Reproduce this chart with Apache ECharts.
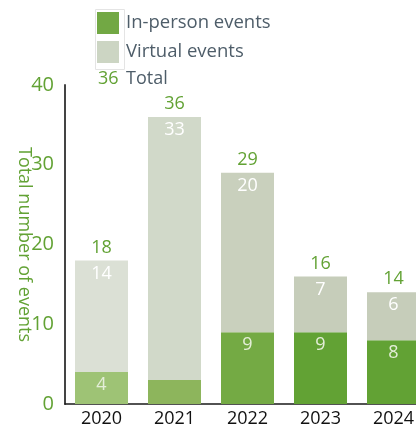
<!DOCTYPE html>
<html><head><meta charset="utf-8">
<script src="https://cdn.jsdelivr.net/npm/echarts@6/dist/echarts.min.js"></script>
<style>html,body{margin:0;padding:0;background:#fff}#c{width:416px;height:429px}</style>
</head><body><div id="c"></div>
<script>
var years = ['2020', '2021', '2022', '2023', '2024'];
var inPerson = [4, 3, 9, 9, 8];
var virtual = [14, 33, 20, 7, 6];
var totals = [18, 36, 29, 16, 14];
var inPersonColors = ['#9ec375', '#8db55c', '#74aa44', '#62a234', '#62a234'];
var virtualColors = ['#dbe0d5', '#d1d9c9', '#c9d0bd', '#c6cdba', '#c6cdba'];
var showInLabel = [true, false, true, true, true];
var yTicks = { min: 0, max: 40, interval: 10 };

var FONT = 'Open Sans';
var green = '#62a234';
var chart = echarts.init(document.getElementById('c'), null, { renderer: 'canvas' });
chart.setOption({
  animation: false,
  textStyle: { fontFamily: FONT },
  grid: { left: 65, top: 85, width: 365, bottom: 25, containLabel: false, outerBoundsMode: 'none' },
  legend: {
    data: ['In-person events', 'Virtual events'],
    orient: 'vertical', left: 97, top: 12,
    itemWidth: 22, itemHeight: 22, itemGap: 7, padding: 0,
    icon: 'rect', selectedMode: false,
    textStyle: { fontFamily: FONT, fontSize: 18.5, color: '#4e5d69', padding: [0, 0, 0, 2] }
  },
  graphic: [
    { type: 'rect', left: 93, top: 7, shape: { width: 29, height: 60 }, style: { fill: 'none', stroke: '#e4e4e4', lineWidth: 1 }, z: -1 },
    { type: 'text', left: 98, top: 70, style: { text: '36', fill: green, font: '18px "' + FONT + '"' } },
    { type: 'text', left: 126, top: 70, style: { text: 'Total', fill: '#4e5d69', font: '18px "' + FONT + '"' } }
  ],
  xAxis: {
    type: 'category', data: years,
    axisLine: { lineStyle: { color: '#1a1a1a', width: 1.5 } },
    axisTick: { show: false },
    axisLabel: { color: '#111', fontSize: 18, margin: 6, fontFamily: FONT }
  },
  yAxis: {
    type: 'value', min: yTicks.min, max: yTicks.max, interval: yTicks.interval,
    name: 'Total number of events', nameLocation: 'middle', nameRotate: -90, nameGap: 32,
    nameMoveOverlap: false,
    nameTextStyle: { color: green, fontSize: 18, fontFamily: FONT },
    axisLine: { show: true, lineStyle: { color: '#444', width: 2 } },
    axisTick: { show: false },
    splitLine: { show: false },
    axisLabel: { color: green, fontSize: 20, margin: 11, fontFamily: FONT }
  },
  series: [
    {
      name: 'In-person events', type: 'bar', stack: 'ev', barWidth: 53, itemStyle: { color: '#72a844' },
      data: inPerson.map(function (v, i) {
        return { value: v, itemStyle: { color: inPersonColors[i] }, label: { show: showInLabel[i] } };
      }),
      label: { show: true, position: 'insideTop', distance: 4, color: '#e4eed8', fontSize: 18, fontFamily: FONT }
    },
    {
      name: 'Virtual events', type: 'bar', stack: 'ev', barWidth: 53, itemStyle: { color: '#ccd5c3' },
      data: virtual.map(function (v, i) {
        return { value: v, itemStyle: { color: virtualColors[i] } };
      }),
      label: { show: true, position: 'insideTop', distance: 4, color: '#ffffff', fontSize: 18, fontFamily: FONT }
    },
    {
      name: 'Total', type: 'bar', barWidth: 53, barGap: '-100%', z: 1,
      itemStyle: { color: 'rgba(0,0,0,0)' },
      data: totals,
      label: { show: true, position: 'top', distance: 4, color: green, fontSize: 18, fontFamily: FONT }
    }
  ]
});
</script></body></html>
